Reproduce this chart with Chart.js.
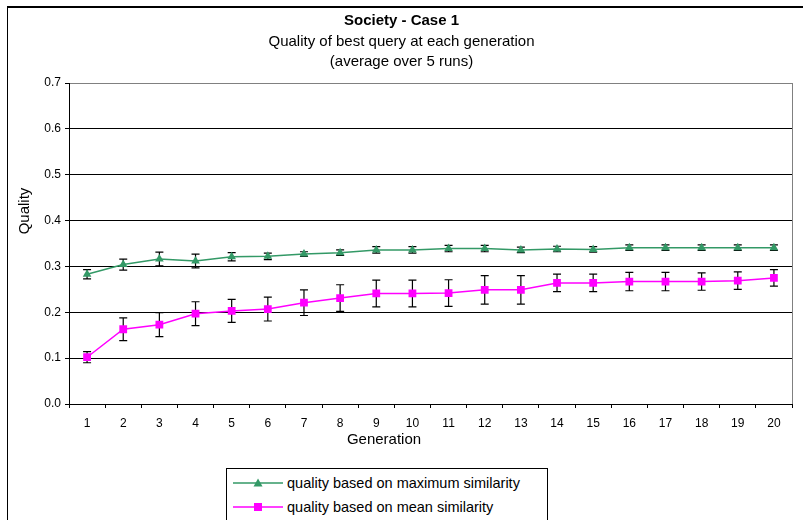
<!DOCTYPE html>
<html>
<head>
<meta charset="utf-8">
<script src="https://cdn.jsdelivr.net/npm/chart.js@4.4.0/dist/chart.umd.min.js"></script>
<style>
  html, body { margin: 0; padding: 0; background: #fff; overflow: hidden; }
  body { width: 803px; height: 520px; position: relative; font-family: "Liberation Sans", Arial, sans-serif; }
  #frame { position: absolute; left: 7px; top: 6px; width: 900px; height: 600px; border-left: 1px solid #000; border-top: 2px solid #000; box-sizing: border-box; }
  #wrap { position: absolute; left: 0; top: 0; width: 803px; height: 520px; }
  #legend { position: absolute; left: 226px; top: 468px; width: 322px; height: 60px; border: 1px solid #000; box-sizing: border-box; background: #fff; font-size: 14.5px; color: #000; }
  .item { position: absolute; left: 6px; height: 20px; display: flex; align-items: center; }
  .item svg { margin-right: 4px; }
</style>
</head>
<body>
<div id="frame"></div>
<div id="wrap"><canvas id="chart" width="803" height="520"></canvas></div>
<div id="legend">
  <div class="item" style="top:4px">
    <svg width="50" height="12"><line x1="0" y1="6" x2="50" y2="6" stroke="#339966" stroke-width="1.5"/><polygon points="25,1.5 29.5,9.5 20.5,9.5" fill="#339966"/></svg>
    <span>quality based on maximum similarity</span>
  </div>
  <div class="item" style="top:28px">
    <svg width="50" height="12"><line x1="0" y1="6" x2="50" y2="6" stroke="#FF00FF" stroke-width="1.5"/><rect x="21" y="2" width="8" height="8" fill="#FF00FF"/></svg>
    <span>quality based on mean similarity</span>
  </div>
</div>
<script>
const generations = ['1','2','3','4','5','6','7','8','9','10','11','12','13','14','15','16','17','18','19','20'];
const maxSimilarity = [0.283, 0.304, 0.316, 0.312, 0.321, 0.322, 0.327, 0.330, 0.336, 0.336, 0.339, 0.339, 0.336, 0.338, 0.337, 0.341, 0.341, 0.341, 0.341, 0.341];
const maxSimilarityErr = [0.010, 0.012, 0.015, 0.015, 0.009, 0.007, 0.005, 0.006, 0.007, 0.007, 0.007, 0.007, 0.006, 0.006, 0.006, 0.006, 0.006, 0.006, 0.006, 0.006];
const meanSimilarity = [0.102, 0.163, 0.173, 0.197, 0.203, 0.207, 0.221, 0.231, 0.241, 0.241, 0.242, 0.249, 0.249, 0.264, 0.264, 0.267, 0.267, 0.267, 0.269, 0.275];
const meanSimilarityErr = [0.012, 0.025, 0.026, 0.026, 0.025, 0.026, 0.028, 0.029, 0.029, 0.029, 0.029, 0.031, 0.031, 0.019, 0.019, 0.020, 0.020, 0.019, 0.019, 0.018];
const yTicks = [0, 0.1, 0.2, 0.3, 0.4, 0.5, 0.6, 0.7];

const FONT = '"Liberation Sans", Arial, sans-serif';

// error bars, drawn under the markers
const errorBars = {
  id: 'errorBars',
  beforeDatasetsDraw(chart) {
    const ctx = chart.ctx;
    const y = chart.scales.y;
    ctx.save();
    ctx.strokeStyle = '#000';
    ctx.lineWidth = 1.2;
    chart.data.datasets.forEach((ds, i) => {
      const meta = chart.getDatasetMeta(i);
      meta.data.forEach((pt, j) => {
        const v = ds.data[j], e = ds.errors[j];
        const top = y.getPixelForValue(v + e);
        const bot = y.getPixelForValue(v - e);
        ctx.beginPath();
        ctx.moveTo(pt.x, top); ctx.lineTo(pt.x, bot);
        ctx.moveTo(pt.x - 4, top); ctx.lineTo(pt.x + 4, top);
        ctx.moveTo(pt.x - 4, bot); ctx.lineTo(pt.x + 4, bot);
        ctx.stroke();
      });
    });
    ctx.restore();
  }
};

// grey plot-area border on the right
const plotBorder = {
  id: 'plotBorder',
  beforeDatasetsDraw(chart) {
    const {ctx, chartArea: a} = chart;
    ctx.save();
    ctx.strokeStyle = '#808080';
    ctx.lineWidth = 1;
    ctx.beginPath();
    ctx.moveTo(a.right + 0.5, a.top);
    ctx.lineTo(a.right + 0.5, a.bottom);
    ctx.stroke();
    ctx.restore();
  }
};

// axis titles sit off-centre in the original, so they are placed by hand
const axisTitles = {
  id: 'axisTitles',
  afterDraw(chart) {
    const ctx = chart.ctx;
    ctx.save();
    ctx.fillStyle = '#000';
    ctx.font = '15px ' + FONT;
    ctx.textAlign = 'center';
    ctx.textBaseline = 'middle';
    ctx.fillText('Generation', 384, 440);
    ctx.translate(25, 211);
    ctx.rotate(-Math.PI / 2);
    ctx.fillText('Quality', 0, 0);
    ctx.restore();
  }
};

new Chart(document.getElementById('chart'), {
  type: 'line',
  data: {
    labels: generations,
    datasets: [
      {
        label: 'quality based on maximum similarity',
        data: maxSimilarity,
        errors: maxSimilarityErr,
        borderColor: '#339966',
        backgroundColor: '#339966',
        borderWidth: 1.5,
        pointStyle: 'triangle',
        pointRadius: 5,
        pointBorderWidth: 0,
        tension: 0
      },
      {
        label: 'quality based on mean similarity',
        data: meanSimilarity,
        errors: meanSimilarityErr,
        borderColor: '#FF00FF',
        backgroundColor: '#FF00FF',
        borderWidth: 1.5,
        pointStyle: 'rect',
        pointRadius: 5.5,
        pointBorderWidth: 0,
        tension: 0
      }
    ]
  },
  options: {
    responsive: false,
    animation: false,
    layout: { padding: { left: 11, right: 11, top: 0, bottom: 71 } },
    plugins: {
      legend: { display: false },
      tooltip: { enabled: false },
      title: {
        display: true,
        text: 'Society - Case 1',
        color: '#000',
        font: { family: FONT, size: 15, weight: 'bold', lineHeight: 1.2 },
        padding: { top: 12, bottom: 0 }
      },
      subtitle: {
        display: true,
        text: ['Quality of best query at each generation', '(average over 5 runs)'],
        color: '#000',
        font: { family: FONT, size: 15, lineHeight: '20px' },
        padding: { top: 2, bottom: 11 }
      }
    },
    scales: {
      x: {
        offset: true,
        afterFit(scale) { scale.height = 45; },
        grid: { display: true, drawOnChartArea: false, drawTicks: true, tickLength: 4, color: '#000', offset: true },
        border: { color: '#000', width: 1 },
        ticks: { color: '#000', font: { family: FONT, size: 12 }, padding: 8.6, maxRotation: 0, autoSkip: false }
      },
      y: {
        min: 0,
        max: 0.7,
        afterBuildTicks(scale) { scale.ticks = yTicks.map(v => ({ value: v })); },
        afterFit(scale) { scale.width = 58; },
        grid: {
          color: ctx => (ctx.tick && ctx.tick.value >= 0.7 ? '#808080' : '#000'),
          tickColor: '#000',
          tickLength: 4,
          drawTicks: true
        },
        border: { color: '#000', width: 1 },
        ticks: { color: '#000', font: { family: FONT, size: 12 }, padding: 4, callback: v => Number(v).toFixed(1) }
      }
    }
  },
  plugins: [errorBars, plotBorder, axisTitles]
});
</script>
</body>
</html>
